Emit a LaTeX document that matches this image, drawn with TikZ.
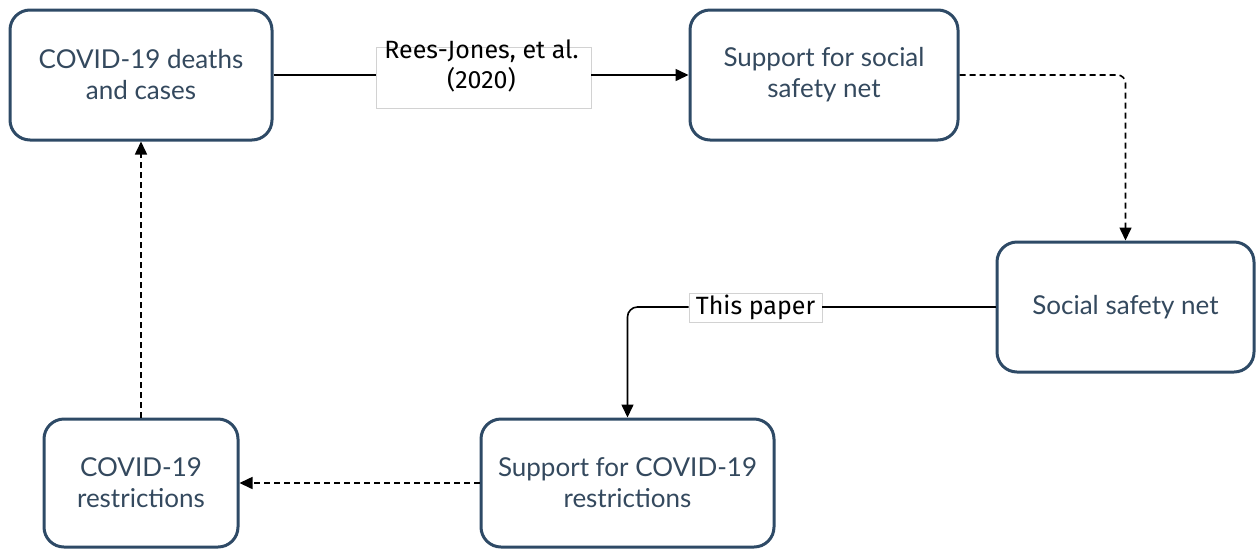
\documentclass[tikz,border=0pt]{standalone}
\usepackage{fontspec}
\setmainfont{Lato}
\newfontfamily\labelfont{Fira Sans}
\usetikzlibrary{arrows.meta}
\definecolor{boxblue}{HTML}{2E4A66}
\definecolor{txtblue}{HTML}{34495E}
\begin{document}
\begin{tikzpicture}[x=1pt,y=-1pt,
  stage/.style={draw=boxblue, line width=3pt, rounded corners=20pt, fill=white,
    text=txtblue, align=center, inner sep=0pt,
    font=\fontsize{26}{31}\selectfont},
  tagbox/.style={draw=gray!35, line width=0.6pt, fill=white, inner sep=0pt},
  tagtext/.style={font=\labelfont\fontsize{25}{30}\selectfont, align=center, inner sep=0pt, text=black},
  link/.style={line width=1.6pt, draw=black},
  dlink/.style={link, dash pattern=on 6pt off 4pt},
  tip/.style={-{Triangle[length=13pt,width=12pt]}}
]
\useasboundingbox (0,0) rectangle (1256,550);

% stages
\node[stage, minimum width=262, minimum height=130] (deaths) at (141,75) {COVID-19 deaths\\and cases};
\node[stage, minimum width=268, minimum height=130] (supnet) at (824,75) {Support for social\\safety net};
\node[stage, minimum width=257, minimum height=130] (net) at (1125.5,307) {Social safety net};
\node[stage, minimum width=293, minimum height=128] (suprest) at (627.5,483) {Support for COVID-19\\restrictions};
\node[stage, minimum width=194, minimum height=128] (rest) at (141,483) {COVID-19\\restrictions};

% citation labels
\node[tagbox, minimum width=215, minimum height=61] (lblrees) at (483.5,77.5) {};
\node[tagtext] (reestext) at (481.5,66) {Rees-Jones, et al.\\(2020)};
\node[tagbox, minimum width=133, minimum height=29] (lblthis) at (755.5,307.5) {};
\node[tagtext] (thistext) at (755.5,307) {This paper};

% connectors
\draw[link] (deaths.east) -- (deaths.east -| lblrees.west);
\draw[link, tip] (supnet.west -| lblrees.east) -- (supnet.west);
\draw[dlink, tip, rounded corners=8pt] (supnet.east) -| (net.north);
\draw[link] (net.west) -- (net.west -| lblthis.east);
\draw[link, tip, rounded corners=10pt] (net.west -| lblthis.west) -| (suprest.north);
\draw[dlink, tip] (suprest.west) -- (rest.east);
\draw[dlink, tip] (rest.north) -- (deaths.south);
\end{tikzpicture}
\end{document}
